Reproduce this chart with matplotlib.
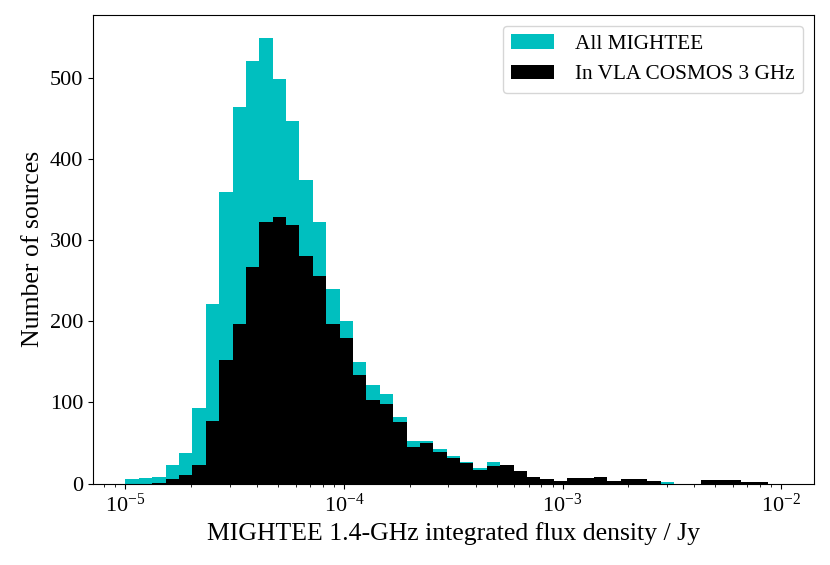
import numpy as np
import matplotlib
matplotlib.use("Agg")
import matplotlib.pyplot as plt

plt.rcParams['font.family'] = ['Liberation Serif', 'DejaVu Serif']
plt.rcParams['mathtext.fontset'] = 'stix'

# 49 log-spaced bins between 1e-5 and 1e-2 Jy
bin_edges = np.logspace(-5, -2, 50)

all_mightee = [5, 7, 8, 23, 38, 93, 222, 360, 464, 521, 550, 499, 447, 375, 322,
               240, 200, 150, 122, 110, 82, 52, 53, 42, 34, 26, 19, 26, 23, 16,
               8, 5, 3, 7, 7, 8, 3, 6, 5, 3, 2, 0, 0, 4, 4, 4, 2, 2, 0]
in_vla = [0, 0, 1, 5, 10, 23, 77, 152, 197, 267, 323, 329, 319, 281, 256,
          197, 179, 134, 103, 98, 76, 45, 50, 39, 31, 25, 17, 22, 23, 16,
          8, 5, 3, 7, 7, 8, 3, 5, 5, 3, 0, 0, 0, 4, 4, 4, 2, 2, 0]

labels = ["All MIGHTEE", "In VLA COSMOS 3 GHz"]

centers = np.sqrt(bin_edges[:-1] * bin_edges[1:])

fig = plt.figure(figsize=(8.3, 5.65), dpi=100)
ax = fig.add_axes([0.1117, 0.1442, 0.869, 0.8293])

ax.hist(centers, bins=bin_edges, weights=all_mightee, color='c', label=labels[0])
ax.hist(centers, bins=bin_edges, weights=in_vla, color='k', label=labels[1])
ax.set_xscale('log')
ax.set_ylim(0, 578)

ax.set_xlabel("MIGHTEE 1.4-GHz integrated flux density / Jy", fontsize=18.5)
ax.set_ylabel("Number of sources", fontsize=18.5)
ax.tick_params(labelsize=16)
ax.legend(loc='upper right', fontsize=15.3, handletextpad=1.0)

fig.savefig("out.png", dpi=100)
